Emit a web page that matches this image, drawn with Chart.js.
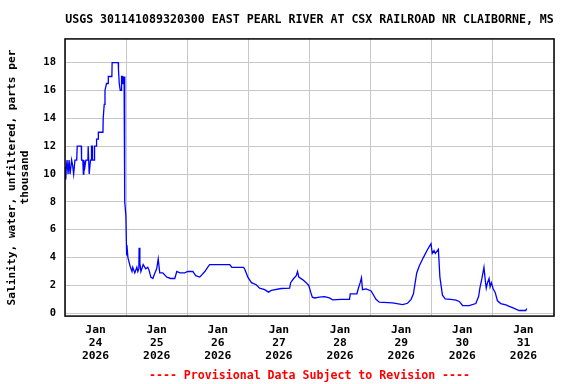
<!DOCTYPE html>
<html><head><meta charset="utf-8">
<script src="https://cdn.jsdelivr.net/npm/chart.js@4"></script>
<style>html,body{margin:0;padding:0;background:#fff}</style>
</head><body>
<canvas id="c" width="576" height="384"></canvas>
<script>
const titleText = 'USGS 301141089320300 EAST PEARL RIVER AT CSX RAILROAD NR CLAIBORNE, MS';
const yAxisTitle = ['Salinity, water, unfiltered, parts per', 'thousand'];
const footerText = '---- Provisional Data Subject to Revision ----';
const monthLabel = 'Jan';
const yearLabel = '2026';
const dayLabels = ['24', '25', '26', '27', '28', '29', '30', '31'];
const yTickValues = [0, 2, 4, 6, 8, 10, 12, 14, 16, 18];

// hours since Jan 24 2026 00:00
const hours = [0,0.3,0.5,0.8,1.2,1.6,2.0,2.6,3.0,3.4,3.9,4.6,4.8,6.4,6.5,7.0,7.2,7.4,7.8,8.2,9.0,9.1,9.4,9.5,10.0,10.3,10.4,10.7,10.8,11.5,11.6,12.3,12.4,13.0,13.1,14.9,15.0,15.4,15.7,16.3,16.9,17.0,18.4,18.5,20.9,21.0,21.3,21.7,22.1,22.2,22.6,22.7,23.1,23.2,23.4,23.5,23.9,24.2,24.3,24.7,25.7,26.3,26.6,27.4,28.2,28.6,29.0,29.1,29.4,29.8,30.7,31.7,32.5,33.0,33.7,34.5,35.3,36.0,36.6,37.2,38.4,40.0,41.5,43.1,43.9,45.1,47.0,48.2,50.2,51.3,52.9,54.9,56.0,56.8,64.7,65.5,70.1,70.5,71.8,73.2,75.1,76.4,78.4,79.9,81.0,84.9,88.2,88.6,89.7,90.8,91.3,91.8,93.4,94.7,95.7,96.5,97.1,98.0,99.9,101.9,103.8,105.1,108.4,111.7,112.0,114.6,115.2,115.9,116.4,116.8,118.2,120.2,122.1,123.4,128.6,132.6,134.5,135.9,136.8,137.4,138.1,139.1,140.7,142.4,143.7,144.2,144.9,145.4,146.6,147.2,148.2,149.3,151.5,153.5,154.8,156.1,158.7,161.3,162.4,162.9,163.7,164.5,165.0,165.4,165.9,166.5,166.9,167.4,168.1,168.9,169.8,171.1,173.1,174.4,175.7,178.3,180.9,181.3];
const salinity = [10.5,9.6,10.4,11,10,11,10,11,10.6,10,11,11,12,12,11,11,10,11,10.5,11,11,12,12,10,11,11,12,12,11,11,12,12,12.5,12.5,13,13,14,15,16,16.5,16.5,17,17,18,18,17.5,16.5,16,16,17,17,16.5,16.5,17,16,8,7,4.2,4.9,4.0,3.3,3.0,3.3,2.9,3.3,3.0,3.2,4.7,3.6,3.0,3.5,3.2,3.3,3.1,2.6,2.5,2.9,3.2,3.9,2.9,2.9,2.6,2.5,2.5,3.0,2.9,2.9,3.0,3.0,2.7,2.6,3.0,3.3,3.5,3.5,3.3,3.3,3.2,2.6,2.2,2.05,1.8,1.7,1.52,1.64,1.78,1.8,2.2,2.48,2.7,3.0,2.6,2.4,2.2,2.0,1.5,1.16,1.1,1.16,1.2,1.1,0.97,1.0,1.0,1.4,1.4,1.8,2.2,2.55,1.7,1.75,1.6,1.0,0.8,0.75,0.63,0.72,1.0,1.4,2.1,2.9,3.4,4.0,4.6,5.0,4.3,4.5,4.3,4.6,2.6,1.3,1.04,1.0,0.95,0.85,0.56,0.55,0.7,1.2,1.8,2.5,3.3,2.4,1.8,2.2,2.5,1.9,2.2,1.76,1.5,0.9,0.7,0.6,0.5,0.4,0.2,0.2,0.35];

const MONO = '"DejaVu Sans Mono", "Liberation Mono", monospace';
const points = hours.map((h, i) => ({ x: h, y: salinity[i] }));

const frame = {
  id: 'frame',
  afterDatasetsDraw(chart) {
    const a = chart.chartArea, ctx = chart.ctx;
    ctx.save();
    ctx.strokeStyle = '#000';
    ctx.lineWidth = 1.5;
    ctx.strokeRect(a.left, a.top, a.right - a.left, a.bottom - a.top);
    ctx.restore();
  }
};

new Chart(document.getElementById('c'), {
  type: 'line',
  data: { datasets: [{ data: points, borderColor: '#0000ff', borderWidth: 1.3, pointRadius: 0, fill: false, tension: 0 }] },
  options: {
    responsive: false,
    animation: false,
    layout: { padding: { left: 0, right: 22, top: 0, bottom: 0 } },
    plugins: {
      legend: { display: false },
      tooltip: { enabled: false },
      title: { display: true, text: titleText, fullSize: false, color: '#000',
        font: { family: MONO, size: 11.6, weight: 'bold', lineHeight: 1.2 }, padding: { top: 13, bottom: 12 } },
      subtitle: { display: true, text: footerText, position: 'bottom', fullSize: false, color: '#ff0000',
        font: { family: MONO, size: 11.6, weight: 'bold', lineHeight: 1.2 }, padding: { top: 0, bottom: 1 } }
    },
    scales: {
      x: {
        type: 'linear', min: 0, max: 192,
        afterBuildTicks(s) { const t = []; for (let h = 0; h <= 192; h += 12) t.push({ value: h }); s.ticks = t; },
        afterFit(s) { s.height = 53; },
        grid: { drawTicks: false, lineWidth: 1,
          color: c => (c.tick && c.tick.value % 24 === 0) ? '#c8c8c8' : 'rgba(0,0,0,0)' },
        border: { display: false },
        ticks: { autoSkip: false, maxRotation: 0, minRotation: 0, padding: 7.5, color: '#000',
          font: { family: MONO, size: 11.3, weight: 'bold', lineHeight: 1.15 },
          callback: v => (v % 24 === 12) ? [monthLabel, dayLabels[(v - 12) / 24], yearLabel] : '' }
      },
      y: {
        type: 'linear', min: -0.2, max: 19.7,
        afterBuildTicks(s) { s.ticks = yTickValues.map(v => ({ value: v })); },
        afterFit(s) { s.width = 65; },
        grid: { drawTicks: false, color: '#c8c8c8', lineWidth: 1 },
        border: { display: false },
        ticks: { padding: 9, color: '#000', font: { family: MONO, size: 10.5, weight: 'bold' } },
        title: { display: true, text: yAxisTitle, color: '#000', padding: { top: 6, bottom: 0 },
          font: { family: MONO, size: 11.2, weight: 'bold', lineHeight: 1.15 } }
      }
    }
  },
  plugins: [frame]
});
</script>
</body></html>
